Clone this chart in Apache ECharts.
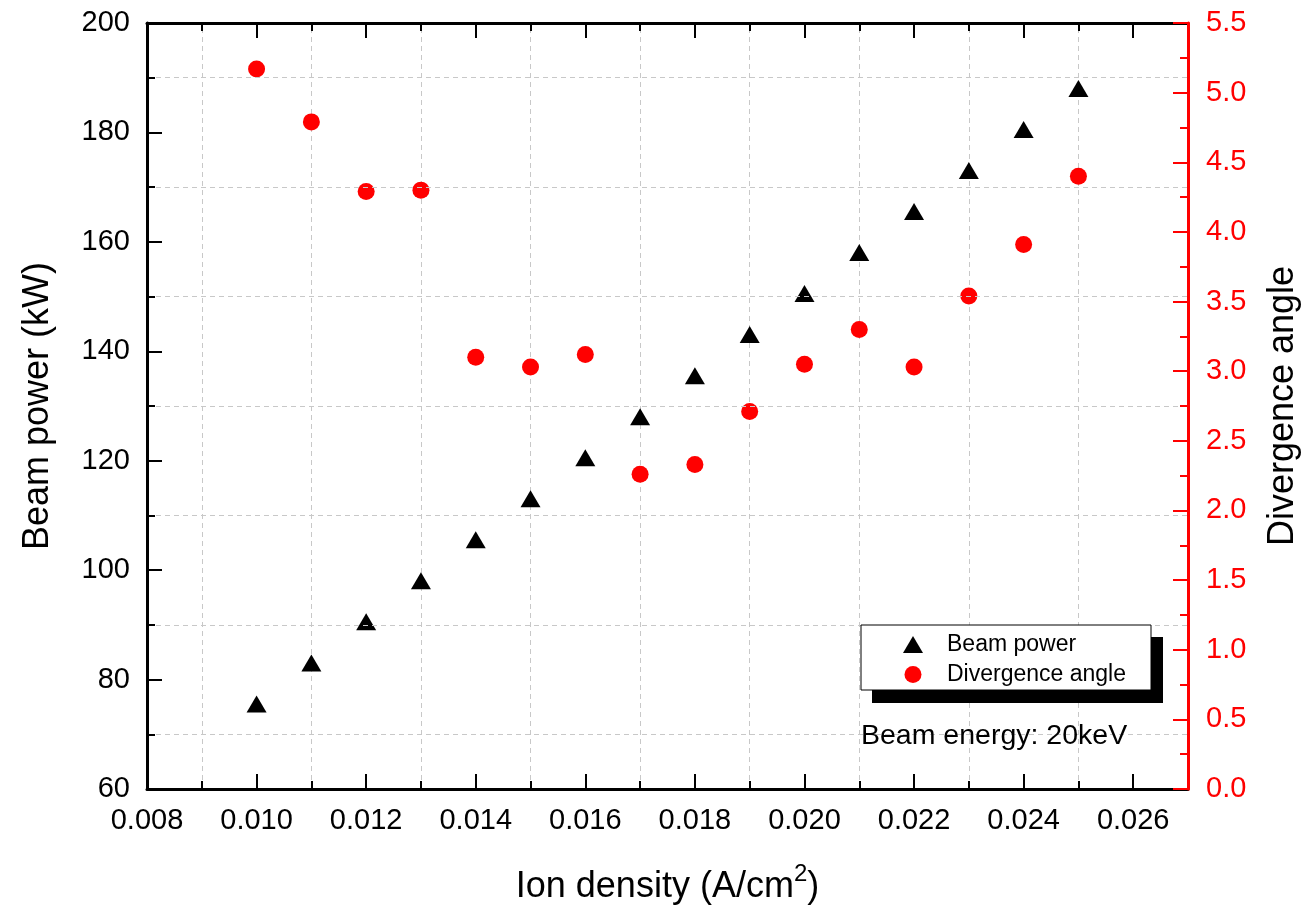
<!DOCTYPE html>
<html><head><meta charset="utf-8">
<script src="https://cdn.jsdelivr.net/npm/echarts@6/dist/echarts.min.js"></script>
<style>html,body{margin:0;padding:0;background:#fff}#c{width:1305px;height:910px}</style>
</head><body><div id="c"></div>
<script>
const ionDensity = [0.010,0.011,0.012,0.013,0.014,0.015,0.016,0.017,0.018,0.019,0.020,0.021,0.022,0.023,0.024,0.025];
const beamPower = [75,82.5,90,97.5,105,112.5,120,127.5,135,142.5,150,157.5,165,172.5,180,187.5];
const divergenceAngle = [5.17,4.79,4.29,4.30,3.10,3.03,3.12,2.26,2.33,2.71,3.05,3.30,3.03,3.54,3.91,4.40];
const gridX = [0.009,0.011,0.013,0.015,0.017,0.019,0.021,0.023,0.025];
const seriesNames = ['Beam power','Divergence angle'];
const annotation = 'Beam energy: 20keV';

const FONT = "'Liberation Sans', Arial, sans-serif";
const BLACK = '#000', RED = '#ff0000', GRID = '#c8c8c8';

const chart = echarts.init(document.getElementById('c'), null, {renderer:'canvas'});

function xAxisCfg(pos, interval, tickLen, withLine, withLabel) {
  return {
    type:'value', position:pos, min:0.008, max:0.027, interval:interval, z:3,
    axisLine:{show:withLine, onZero:false, lineStyle:{color:BLACK, width:3}},
    axisTick:{show:true, inside:true, length:tickLen, lineStyle:{color:BLACK, width:2}},
    axisLabel:{show:withLabel, showMaxLabel:false, fontSize:29, color:BLACK, fontFamily:FONT, margin:17,
      formatter:v=>v.toFixed(3)},
    splitLine:{show:false},
    name: withLabel ? 'Ion density (A/cm{sup|2})' : '',
    nameLocation:'middle', nameGap:73,
    nameTextStyle:{fontSize:36, lineHeight:50, color:BLACK, fontFamily:FONT,
      rich:{sup:{fontSize:24, lineHeight:24, verticalAlign:'top', color:BLACK, fontFamily:FONT}}}
  };
}

const option = {
  animation:false,
  backgroundColor:'#fff',
  grid:{left:147, right:117, top:23, bottom:121, containLabel:false, outerBoundsMode:'none'},
  xAxis:[
    xAxisCfg('bottom',0.002,15,true,true),
    xAxisCfg('bottom',0.001,8,false,false),
    xAxisCfg('top',0.002,15,true,false),
    xAxisCfg('top',0.001,8,false,false)
  ],
  yAxis:[
    {type:'value', position:'left', min:60, max:200, interval:20, z:3,
     axisLine:{show:true, onZero:false, lineStyle:{color:BLACK, width:3}},
     axisTick:{show:true, inside:true, length:15, lineStyle:{color:BLACK, width:2}},
     minorTick:{show:true, splitNumber:2, length:8, lineStyle:{color:BLACK, width:2}},
     splitLine:{show:false},
     minorSplitLine:{show:true, lineStyle:{color:GRID, width:1, type:[5,4]}},
     axisLabel:{fontSize:29, color:BLACK, fontFamily:FONT, margin:17},
     name:'Beam power (kW)', nameLocation:'middle', nameGap:91, nameRotate:90,
     nameTextStyle:{fontSize:36, color:BLACK, fontFamily:FONT}},
    {type:'value', position:'right', min:0, max:5.5, interval:0.5, z:4,
     axisLine:{show:true, onZero:false, lineStyle:{color:RED, width:3}},
     axisTick:{show:true, inside:true, length:15, lineStyle:{color:RED, width:2}},
     minorTick:{show:true, splitNumber:2, length:8, lineStyle:{color:RED, width:2}},
     splitLine:{show:false},
     axisLabel:{fontSize:29, color:RED, fontFamily:FONT, margin:18, formatter:v=>v.toFixed(1)},
     name:'Divergence angle', nameLocation:'middle', nameGap:77, nameRotate:90,
     nameTextStyle:{fontSize:36, color:BLACK, fontFamily:FONT}}
  ],
  legend:{
    orient:'vertical', left:861, top:625, padding:[8,25,4,42], z:6,
    itemWidth:20, itemHeight:17, itemGap:7,
    backgroundColor:'#fff', borderColor:BLACK, borderWidth:1,
    textStyle:{fontSize:23, color:BLACK, fontFamily:FONT, padding:[0,0,0,19]},
    data:seriesNames
  },
  graphic:[
    {type:'rect', z:5, shape:{x:872, y:637, width:291, height:66}, style:{fill:BLACK}, silent:true},
    {type:'text', left:861, top:722, z:10,
     style:{text:annotation, fontSize:28.5, fontFamily:FONT, fill:BLACK}}
  ],
  series:[
    {name:seriesNames[0], type:'scatter', xAxisIndex:0, yAxisIndex:0,
     symbol:'triangle', symbolSize:[20,17], symbolOffset:[0,-3],
     itemStyle:{color:BLACK, opacity:1},
     data:ionDensity.map((x,i)=>[x,beamPower[i]]),
     markLine:{silent:true, z:1, precision:6, symbol:['none','none'], label:{show:false}, animation:false,
       lineStyle:{color:GRID, width:1, type:[5,4]},
       emphasis:{disabled:true},
       data:gridX.map(v=>({xAxis:v}))}},
    {name:seriesNames[1], type:'scatter', xAxisIndex:0, yAxisIndex:1,
     symbol:'circle', symbolSize:17,
     itemStyle:{color:RED, opacity:1},
     data:ionDensity.map((x,i)=>[x,divergenceAngle[i]])}
  ]
};
chart.setOption(option);
</script></body></html>
